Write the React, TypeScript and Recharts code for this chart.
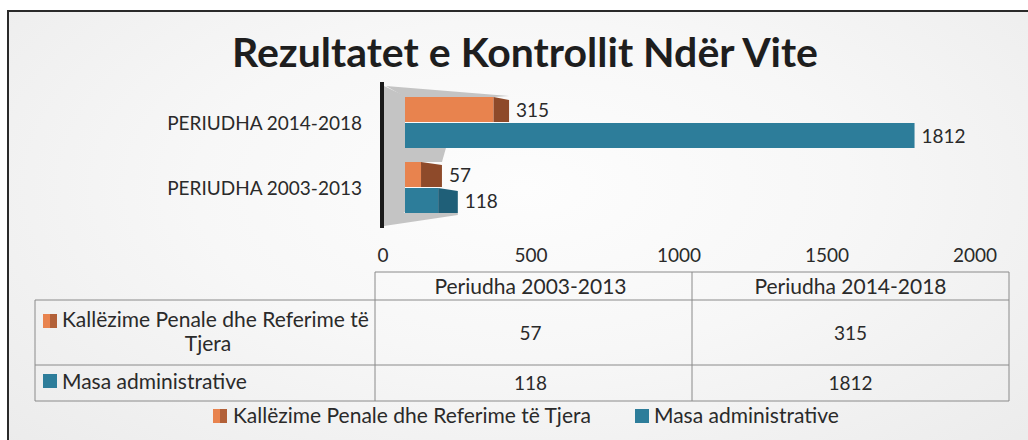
import React from 'react';
import { BarChart, Bar, XAxis, YAxis, LabelList, Customized } from 'recharts';

// ---- data ----
const periods = ['2003-2013', '2014-2018'];
const categoryLabels = ['PERIUDHA 2003-2013', 'PERIUDHA 2014-2018'];
const tableHeaders = ['Periudha 2003-2013', 'Periudha 2014-2018'];
const kallezime = [57, 315];
const masa = [118, 1812];
const seriesNames = ['Kallëzime Penale dhe Referime të Tjera', 'Masa administrative'];
const xTicks = [0, 500, 1000, 1500, 2000];
const title = 'Rezultatet e Kontrollit Ndër Vite';

// ---- styles ----
const FONT = 'Lato, "Open Sans", sans-serif';
const W = 1028;
const H = 440;
const PLOT_LEFT = 383;
const PLOT_TOP = 90;
const PLOT_BOTTOM = 220;
const ORANGE = '#e8834e';
const ORANGE_SIDE = '#8e4a2a';
const BLUE = '#2d7d9a';
const BLUE_SIDE = '#1f5f78';
const WALL = '#c4c4c4';
const TEXT = '#2a2a2a';

// chart rows, top to bottom
const chartData = periods
  .map((p, i) => ({ cat: categoryLabels[i], k: kallezime[i], m: masa[i] }))
  .reverse();

function geom(x: number, width: number) {
  const frontStart = x + 22;
  const frontEnd = frontStart + Math.max(0, width) * 0.95;
  const cap = Math.max(0, (x + 317 - frontEnd) * 0.075);
  return { frontStart, frontEnd, cap };
}

const makeShape = (front: string, side: string, kind: 'top' | 'bottom') => (props: any) => {
  const { x, y, width, height, index } = props;
  const g = geom(x, width);
  const fe = g.frontEnd;
  const topPts =
    index === 0
      ? `${x + 3},${y - 11} ${fe + g.cap},${y - 1} ${fe},${y} ${x + 22},${y}`
      : `${x + 1},${y - 14} ${fe + g.cap + 4},${y - 14} ${fe + g.cap},${y} ${x + 22},${y}`;
  return (
    <g>
      {kind === 'top' && <polygon points={topPts} fill={WALL} />}
      {kind === 'bottom' && index === chartData.length - 1 && (
        <polygon
          points={`${x + 1},${y + height} ${fe + g.cap},${y + height} ${fe + g.cap},${y + height + 2} ${x + 1},${y + height + 13}`}
          fill={WALL}
        />
      )}
      <rect x={g.frontStart} y={y} width={fe - g.frontStart} height={height} fill={front} />
      {g.cap > 0 && (
        <polygon
          points={`${fe},${y} ${fe + g.cap},${y + 3} ${fe + g.cap},${y + height} ${fe},${y + height}`}
          fill={side}
        />
      )}
    </g>
  );
};

const renderLabel = (props: any) => {
  const { x, y, width, height, value } = props;
  const g = geom(x, width);
  return (
    <text
      x={g.frontEnd + g.cap + 7}
      y={y + height / 2 + 7}
      fontSize={19}
      fontFamily={FONT}
      fill={TEXT}
    >
      {value}
    </text>
  );
};

const Wall = () => {
  const L = PLOT_LEFT;
  const T = PLOT_TOP;
  const B = PLOT_BOTTOM;
  return (
    <g>
      <polygon points={`${L + 1},${T - 4} ${L + 22},${T + 6} ${L + 22},${B - 8} ${L + 1},${B + 6}`} fill={WALL} />
      <rect x={L - 3} y={T - 8} width={4} height={B - T + 16} fill="#1a1a1a" />
    </g>
  );
};

const XTick = (props: any) => (
  <text x={props.x} y={props.y + 42} textAnchor="middle" fontSize={19} fontFamily={FONT} fill={TEXT}>
    {props.payload.value}
  </text>
);

const YTick = (props: any) => (
  <text x={props.x - 21} y={props.y + 7} textAnchor="end" fontSize={19} fontFamily={FONT} fill={TEXT}>
    {props.payload.value}
  </text>
);

// table layout
const TBL_L = 35;
const TBL_C1 = 375;
const TBL_C2 = 692;
const TBL_R = 1009;
const ROW_Y = [272, 300, 365, 401];
const LINE = '#8a8a8a';

export default function App() {
  const colCenters = [(TBL_C1 + TBL_C2) / 2 - 3, (TBL_C2 + TBL_R) / 2];
  const words = seriesNames[0].split(' ');
  return (
    <div
      style={{
        position: 'absolute',
        left: 0,
        top: 0,
        width: W,
        height: H,
        background: '#ffffff',
        overflow: 'hidden',
      }}
    >
      <div
        style={{
          position: 'absolute',
          left: 7,
          top: 10,
          width: W,
          height: H,
          borderLeft: '2px solid #2a2a2a',
          borderTop: '2px solid #2a2a2a',
          background:
            'radial-gradient(ellipse at 50% 40%, #fdfdfd 0%, #f7f7f7 45%, #ebebeb 100%)',
        }}
      />
      <div style={{ position: 'absolute', left: 0, top: 0 }}>
        <BarChart
          width={W}
          height={H}
          data={chartData}
          layout="vertical"
          margin={{ top: PLOT_TOP, right: W - 975, bottom: H - PLOT_BOTTOM - 30, left: 0 }}
          barSize={25}
          barGap={1}
        >
          <Customized component={Wall} />
          <XAxis
            type="number"
            domain={[0, 2000]}
            ticks={xTicks}
            axisLine={false}
            tickLine={false}
            tickSize={0}
            tickMargin={0}
            height={30}
            tick={<XTick />}
            interval={0}
          />
          <YAxis
            type="category"
            dataKey="cat"
            width={PLOT_LEFT}
            axisLine={false}
            tickLine={false}
            tickSize={0}
            tickMargin={0}
            tick={<YTick />}
          />
          <Bar dataKey="k" name={seriesNames[0]} fill={ORANGE} isAnimationActive={false}
            shape={makeShape(ORANGE, ORANGE_SIDE, 'top')}>
            <LabelList dataKey="k" content={renderLabel} />
          </Bar>
          <Bar dataKey="m" name={seriesNames[1]} fill={BLUE} isAnimationActive={false}
            shape={makeShape(BLUE, BLUE_SIDE, 'bottom')}>
            <LabelList dataKey="m" content={renderLabel} />
          </Bar>
        </BarChart>
      </div>
      <svg
        width={W}
        height={H}
        style={{ position: 'absolute', left: 0, top: 0, pointerEvents: 'none' }}
        fontFamily={FONT}
      >
        <text x={525} y={67} textAnchor="middle" fontSize={41} fontWeight={700} fill="#1e1e1e">
          {title}
        </text>
        {/* table grid */}
        <g stroke={LINE} strokeWidth={1}>
          <line x1={TBL_C1} y1={ROW_Y[0]} x2={TBL_R} y2={ROW_Y[0]} />
          <line x1={TBL_L} y1={ROW_Y[1]} x2={TBL_R} y2={ROW_Y[1]} />
          <line x1={TBL_L} y1={ROW_Y[2]} x2={TBL_R} y2={ROW_Y[2]} />
          <line x1={TBL_L} y1={ROW_Y[3]} x2={TBL_R} y2={ROW_Y[3]} />
          <line x1={TBL_L} y1={ROW_Y[1]} x2={TBL_L} y2={ROW_Y[3]} />
          <line x1={TBL_C1} y1={ROW_Y[0]} x2={TBL_C1} y2={ROW_Y[3]} />
          <line x1={TBL_C2} y1={ROW_Y[0]} x2={TBL_C2} y2={ROW_Y[3]} />
          <line x1={TBL_R} y1={ROW_Y[0]} x2={TBL_R} y2={ROW_Y[3]} />
        </g>
        {tableHeaders.map((h, i) => (
          <text key={h} x={colCenters[i]} y={294} textAnchor="middle" fontSize={21} fill={TEXT}>
            {h}
          </text>
        ))}
        {/* row 1 */}
        <rect x={43} y={314} width={14} height={14} fill={ORANGE} />
        <rect x={50} y={314} width={7} height={14} fill={ORANGE_SIDE} opacity={0.6} />
        <text x={62} y={327} fontSize={21} fill={TEXT}>
          {words.slice(0, 5).join(' ')}
        </text>
        <text x={208} y={351} textAnchor="middle" fontSize={21} fill={TEXT}>
          {words.slice(5).join(' ')}
        </text>
        {kallezime.map((v, i) => (
          <text key={'k' + i} x={colCenters[i]} y={340} textAnchor="middle" fontSize={19} fill={TEXT}>
            {v}
          </text>
        ))}
        {/* row 2 */}
        <rect x={43} y={374} width={14} height={14} fill={BLUE} />
        <text x={62} y={389} fontSize={21} fill={TEXT}>
          {seriesNames[1]}
        </text>
        {masa.map((v, i) => (
          <text key={'m' + i} x={colCenters[i]} y={390} textAnchor="middle" fontSize={19} fill={TEXT}>
            {v}
          </text>
        ))}
        {/* legend */}
        <rect x={213} y={409} width={14} height={14} fill={ORANGE} />
        <rect x={220} y={409} width={7} height={14} fill={ORANGE_SIDE} opacity={0.6} />
        <text x={233} y={423} fontSize={21} fill={TEXT}>
          {seriesNames[0]}
        </text>
        <rect x={635} y={409} width={14} height={14} fill={BLUE} />
        <text x={654} y={423} fontSize={21} fill={TEXT}>
          {seriesNames[1]}
        </text>
      </svg>
    </div>
  );
}
